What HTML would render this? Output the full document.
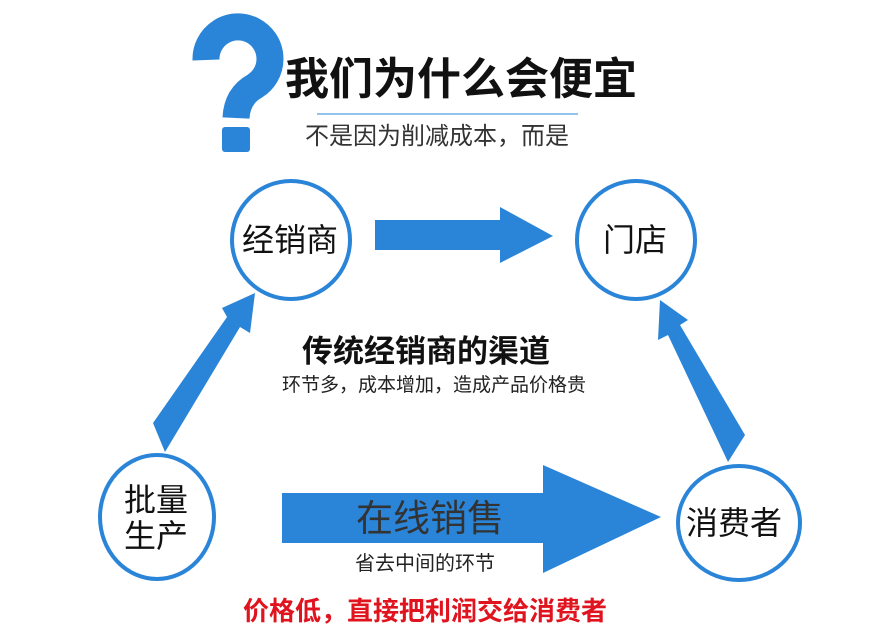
<!DOCTYPE html>
<html><head><meta charset="utf-8"><style>
body{margin:0;background:#fff;}
.w{position:relative;width:881px;height:644px;overflow:hidden;font-family:"Liberation Sans","Noto Sans CJK SC",sans-serif;}
.t{position:absolute;white-space:nowrap;line-height:1;}
</style></head><body><div class="w">
<svg width="881" height="644" style="position:absolute;left:0;top:0">
<path d="M206,60 A32,32 0 1 1 255,86 Q237,96 236,118" fill="none" stroke="#2a84d8" stroke-width="27"/>
<rect x="222" y="127" width="28" height="25" rx="3" fill="#2a84d8"/>
<line x1="317" y1="114" x2="578" y2="114" stroke="#2a84d8" stroke-width="1"/>
<circle cx="291" cy="240" r="59" fill="none" stroke="#2a84d8" stroke-width="4"/>
<circle cx="636" cy="240" r="59" fill="none" stroke="#2a84d8" stroke-width="4"/>
<ellipse cx="157" cy="517" rx="57" ry="62" fill="none" stroke="#2a84d8" stroke-width="4"/>
<ellipse cx="739" cy="523" rx="61" ry="57" fill="none" stroke="#2a84d8" stroke-width="4"/>
<polygon points="375,220 500,220 500,207 553,236 500,263 500,250 375,250" fill="#2a84d8"/>
<polygon points="282,493 543,493 543,465 661,517 543,573 543,543 282,543" fill="#2a84d8"/>
<polygon points="153,423 227,317 222,308 255,293 250,333 240,327 165,452" fill="#2a84d8"/>
<polygon points="660,300 688,320 680,325 745,435 728,462 668,335 658,340" fill="#2a84d8"/>
</svg>
<div class="t" style="left:285px;top:58px;font-size:44px;font-weight:bold;color:#111;">我们为什么会便宜</div>
<div class="t" style="left:305px;top:125px;font-size:24px;color:#333;">不是因为削减成本，而是</div>
<div class="t" style="left:242px;top:224px;font-size:32px;color:#111;">经销商</div>
<div class="t" style="left:603px;top:224px;font-size:32px;color:#111;">门店</div>
<div class="t" style="left:302px;top:336px;font-size:31px;font-weight:bold;color:#111;">传统经销商的渠道</div>
<div class="t" style="left:282px;top:376px;font-size:19px;color:#222;">环节多，成本增加，造成产品价格贵</div>
<div class="t" style="left:124px;top:482px;font-size:32px;color:#111;line-height:36px;width:70px;">批量<br>生产</div>
<div class="t" style="left:686px;top:507px;font-size:32px;color:#111;">消费者</div>
<div class="t" style="left:356px;top:500px;font-size:37px;color:#333;">在线销售</div>
<div class="t" style="left:355px;top:554px;font-size:20px;color:#222;">省去中间的环节</div>
<div class="t" style="left:243px;top:598px;font-size:26px;font-weight:bold;color:#e0141e;">价格低，直接把利润交给消费者</div>
</div></body></html>
